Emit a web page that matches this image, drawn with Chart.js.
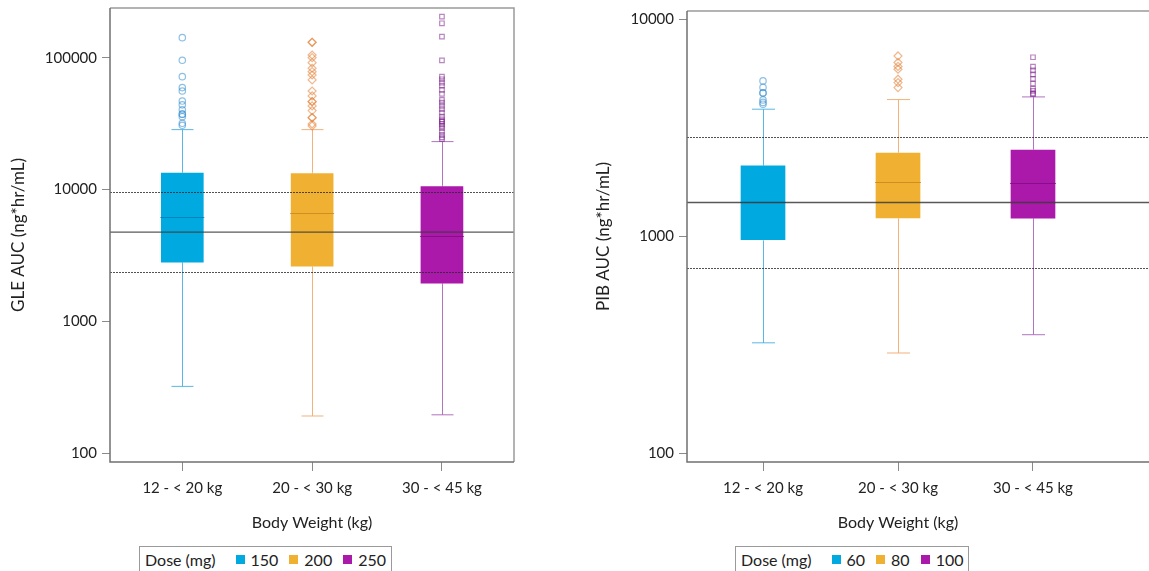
<!DOCTYPE html>
<html>
<head>
<meta charset="utf-8">
<script src="https://cdn.jsdelivr.net/npm/chart.js@4.4.1/dist/chart.umd.min.js"></script>
<style>
    html, body { margin: 0; padding: 0; background: #fff; overflow: hidden; width: 1149px; height: 571px; }
    canvas { position: absolute; top: 0; }
    #gle_canvas { left: 0; }
    #pib_canvas { left: 575px; }
    .legend {
        position: absolute; top: 546px; height: 27px; box-sizing: border-box;
        border: 1px solid #9a9a9a; font: 16px Lato, sans-serif; color: #222;
        display: flex; align-items: center; padding: 0 5px; white-space: nowrap;
    }
    .legend .title { margin-right: 20px; }
    .legend .swatch { display: inline-block; width: 9px; height: 9px; margin-right: 6px; }
    .legend .item { margin-right: 11px; }
    .legend .item:last-child { margin-right: 0; }
    #gle_legend { left: 139px; }
    #pib_legend { left: 735px; }
</style>
</head>
<body>
<canvas id="gle_canvas" width="575" height="540"></canvas>
<canvas id="pib_canvas" width="574" height="540"></canvas>
<div class="legend" id="gle_legend"></div>
<div class="legend" id="pib_legend"></div>
<script>
const weight_bands = ["12 - < 20 kg", "20 - < 30 kg", "30 - < 45 kg"];
const box_colors = ["#00a9df", "#f0b132", "#aa19a9"];
const median_colors = ["rgba(0,120,175,0.75)", "rgba(200,130,30,0.75)", "rgba(120,10,120,0.7)"];
const whisker_colors = ["rgba(60,170,225,0.85)", "rgba(240,170,110,0.9)", "rgba(170,100,185,0.9)"];
const outlier_colors = ["rgba(50,140,205,0.55)", "rgba(225,125,50,0.55)", "rgba(125,35,140,0.55)"];
const outlier_styles = ["circle", "rectRot", "rect"];

// GLE exposure by weight band
const gle_doses = ["150", "200", "250"];
const gle_q1 = [2770, 2583, 1920];
const gle_median = [6180, 6660, 4460];
const gle_q3 = [13550, 13450, 10720];
const gle_whisker_low = [322, 192, 196];
const gle_whisker_high = [28480, 28480, 23100];
const gle_outliers = [
    [141800, 95500, 71800, 59300, 55900, 46900, 43900, 40200, 37300, 37300, 35700, 31800, 30700],
    [130800, 130800, 104800, 100000, 91700, 83100, 78300, 73900, 67800, 55900, 51300, 46400, 46400, 43100, 39700, 35100, 35100, 31400, 30400],
    [204500, 182300, 144300, 95500, 71800, 68600, 64700, 61400, 56900, 53100, 47800, 45600, 43100, 40700, 38300, 35700, 34100, 32700, 32700, 31400, 30400, 29200, 27500, 26000, 24900, 24100]
];
const gle_ref_median = 4760;
const gle_ref_band = [2380, 9520];
const gle_ticks = [100, 1000, 10000, 100000];

// PIB exposure by weight band
const pib_doses = ["60", "80", "100"];
const pib_q1 = [955, 1202, 1197];
const pib_median = [1430, 1774, 1761];
const pib_q3 = [2130, 2438, 2517];
const pib_whisker_low = [323, 290, 352];
const pib_whisker_high = [3845, 4258, 4380];
const pib_outliers = [
    [5190, 4845, 4570, 4570, 4243, 4132, 4054],
    [6761, 6310, 6050, 5875, 5284, 5100, 4835],
    [6670, 6033, 5800, 5560, 5302, 5043, 4785, 4668, 4520, 4520]
];
const pib_ref_median = 1430;
const pib_ref_band = [715, 2860];
const pib_ticks = [100, 1000, 10000];

const FONT = "Lato";

// whiskers behind the boxes, medians / reference lines / frame on top
const box_extras = {
    id: "box_extras",
    beforeDatasetsDraw(chart, args, opts) {
        const ctx = chart.ctx;
        const x = chart.scales.x, y = chart.scales.y;
        ctx.save();
        ctx.lineWidth = 1;
        for (let i = 0; i < opts.low.length; i++) {
            const cx = Math.round(x.getPixelForValue(i + 1)) + 0.5;
            const half = opts.cap_width / 2;
            const y_low = y.getPixelForValue(opts.low[i]);
            const y_high = y.getPixelForValue(opts.high[i]);
            ctx.strokeStyle = whisker_colors[i];
            ctx.beginPath();
            ctx.moveTo(cx, y_low);
            ctx.lineTo(cx, y_high);
            ctx.moveTo(cx - half, y_low);
            ctx.lineTo(cx + half, y_low);
            ctx.moveTo(cx - half, y_high);
            ctx.lineTo(cx + half, y_high);
            ctx.stroke();
        }
        ctx.restore();
    },
    afterDatasetsDraw(chart, args, opts) {
        const ctx = chart.ctx;
        const x = chart.scales.x, y = chart.scales.y;
        const area = chart.chartArea;
        const right = opts.open_right ? chart.width : area.right;
        ctx.save();

        // medians
        ctx.lineWidth = 1;
        for (let i = 0; i < opts.median.length; i++) {
            const cx = x.getPixelForValue(i + 1);
            const py = Math.round(y.getPixelForValue(opts.median[i])) + 0.5;
            ctx.strokeStyle = median_colors[i];
            ctx.beginPath();
            ctx.moveTo(cx - opts.box_width / 2, py);
            ctx.lineTo(cx + opts.box_width / 2, py);
            ctx.stroke();
        }

        // reference median and 0.5x / 2x band
        ctx.strokeStyle = "rgba(60,60,60,0.85)";
        ctx.lineWidth = 1.3;
        let py = y.getPixelForValue(opts.ref_median);
        ctx.beginPath();
        ctx.moveTo(area.left, py);
        ctx.lineTo(right, py);
        ctx.stroke();

        ctx.strokeStyle = "rgba(40,40,40,0.8)";
        ctx.lineWidth = 1;
        ctx.setLineDash([2, 1]);
        for (const v of opts.ref_band) {
            py = Math.round(y.getPixelForValue(v)) + 0.5;
            ctx.beginPath();
            ctx.moveTo(area.left, py);
            ctx.lineTo(right, py);
            ctx.stroke();
        }
        ctx.setLineDash([]);

        // plot frame
        ctx.lineWidth = 1.5;
        ctx.strokeStyle = "#9a9a9a";
        ctx.beginPath();
        ctx.moveTo(area.left, area.top);
        ctx.lineTo(right, area.top);
        if (!opts.open_right) {
            ctx.lineTo(right, area.bottom);
        }
        ctx.stroke();
        ctx.strokeStyle = "#707070";
        ctx.beginPath();
        ctx.moveTo(area.left, area.top);
        ctx.lineTo(area.left, area.bottom);
        ctx.lineTo(right, area.bottom);
        ctx.stroke();
        ctx.restore();
    }
};

function make_box_chart(canvas_id, spec) {
    const datasets = [{
        type: "bar",
        data: spec.q1.map((v, i) => ({x: i + 1, y: [v, spec.q3[i]]})),
        backgroundColor: box_colors,
        borderColor: "rgba(255,255,255,0.35)",
        borderWidth: 1,
        borderSkipped: false,
        barThickness: spec.box_width,
        grouped: false,
        order: 2
    }];

    spec.outliers.forEach((values, i) => {
        datasets.push({
            type: "scatter",
            data: values.map(v => ({x: i + 1, y: v})),
            pointStyle: outlier_styles[i],
            pointRadius: i === 1 ? 4 : 3.2,
            backgroundColor: "rgba(0,0,0,0)",
            borderColor: outlier_colors[i],
            borderWidth: 1.2,
            order: 1
        });
    });

    const config = {
        type: "bar",
        data: {datasets: datasets},
        options: {
            responsive: false,
            animation: false,
            events: [],
            layout: {padding: spec.padding},
            plugins: {
                legend: {display: false},
                tooltip: {enabled: false},
                box_extras: {
                    low: spec.whisker_low,
                    high: spec.whisker_high,
                    median: spec.median,
                    ref_median: spec.ref_median,
                    ref_band: spec.ref_band,
                    box_width: spec.box_width,
                    cap_width: spec.box_width / 2,
                    open_right: spec.open_right
                }
            },
            scales: {
                x: {
                    type: "linear",
                    min: spec.x_min,
                    max: spec.x_max,
                    offset: false,
                    afterBuildTicks: scale => { scale.ticks = weight_bands.map((b, i) => ({value: i + 1})); },
                    afterFit: scale => {
                        scale.height = 78;
                        scale.paddingLeft = 0;
                        scale.paddingRight = 0;
                    },
                    ticks: {
                        callback: v => weight_bands[v - 1],
                        font: {family: FONT, size: 15},
                        color: "#222",
                        padding: 8,
                        maxRotation: 0,
                        autoSkip: false
                    },
                    grid: {drawOnChartArea: false, offset: false, tickLength: 9, color: "#8a8a8a"},
                    border: {display: false},
                    title: {
                        display: true,
                        text: "Body Weight (kg)",
                        font: {family: FONT, size: 16},
                        color: "#222",
                        padding: {top: 0, bottom: 8}
                    }
                },
                y: {
                    type: "logarithmic",
                    min: spec.y_min,
                    max: spec.y_max,
                    afterBuildTicks: scale => { scale.ticks = spec.ticks.map(v => ({value: v})); },
                    afterFit: scale => {
                        scale.width = spec.y_axis_width;
                        scale.paddingTop = 0;
                        scale.paddingBottom = 0;
                    },
                    ticks: {
                        callback: v => String(v),
                        font: {family: FONT, size: 15},
                        color: "#222",
                        padding: 5
                    },
                    grid: {drawOnChartArea: false, tickLength: 8, color: "#8a8a8a"},
                    border: {display: false},
                    title: {
                        display: true,
                        text: spec.y_title,
                        font: {family: FONT, size: 17},
                        color: "#222",
                        padding: {top: spec.y_title_pad, bottom: 0}
                    }
                }
            }
        },
        plugins: [box_extras]
    };

    return new Chart(document.getElementById(canvas_id), config);
}

function fill_legend(el_id, doses) {
    const el = document.getElementById(el_id);
    let html = '<span class="title">Dose (mg)</span>';
    doses.forEach((d, i) => {
        html += '<span class="swatch" style="background:' + box_colors[i] + '"></span><span class="item">' + d + '</span>';
    });
    el.innerHTML = html;
}

make_box_chart("gle_canvas", {
    q1: gle_q1, median: gle_median, q3: gle_q3,
    whisker_low: gle_whisker_low, whisker_high: gle_whisker_high,
    outliers: gle_outliers,
    ref_median: gle_ref_median, ref_band: gle_ref_band,
    ticks: gle_ticks, y_min: 86, y_max: 238000,
    x_min: 0.443, x_max: 3.555,
    box_width: 44, y_axis_width: 110, y_title_pad: 8,
    padding: {top: 8, right: 61, left: 0, bottom: 0},
    y_title: "GLE AUC (ng*hr/mL)",
    open_right: false
});

make_box_chart("pib_canvas", {
    q1: pib_q1, median: pib_median, q3: pib_q3,
    whisker_low: pib_whisker_low, whisker_high: pib_whisker_high,
    outliers: pib_outliers,
    ref_median: pib_ref_median, ref_band: pib_ref_band,
    ticks: pib_ticks, y_min: 91.3, y_max: 10890,
    x_min: 0.437, x_max: 3.563,
    box_width: 46, y_axis_width: 112, y_title_pad: 18,
    padding: {top: 11, right: 40, left: 0, bottom: 0},
    y_title: "PIB AUC (ng*hr/mL)",
    open_right: true
});

fill_legend("gle_legend", gle_doses);
fill_legend("pib_legend", pib_doses);
</script>
</body>
</html>
